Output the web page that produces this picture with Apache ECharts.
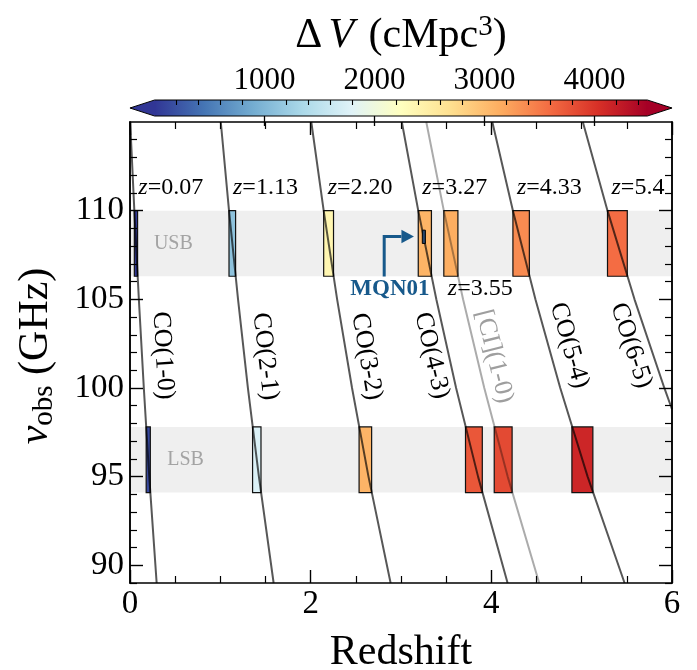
<!DOCTYPE html>
<html>
<head>
<meta charset="utf-8">
<script src="https://cdn.jsdelivr.net/npm/echarts@6.0.0/dist/echarts.min.js"></script>
<style>
html,body{margin:0;padding:0;background:#ffffff;}
#chart{width:697px;height:670px;}
</style>
</head>
<body>
<div id="chart"></div>
<script>
// ---------------- data ----------------
const lineNames = ['CO(1-0)', 'CO(2-1)', 'CO(3-2)', 'CO(4-3)', '[CI](1-0)', 'CO(5-4)', 'CO(6-5)'];
// [redshift, observed frequency GHz] points along each line
const lineCO10 = [[0.002,115],[0.048,110],[0.098,105],[0.153,100],[0.213,95],[0.295,89]];
const lineCO21 = [[1.005,115],[1.096,110],[1.196,105],[1.305,100],[1.427,95],[1.590,89]];
const lineCO32 = [[2.007,115],[2.144,110],[2.293,105],[2.458,100],[2.640,95],[2.885,89]];
const lineCO43 = [[3.009,115],[3.191,110],[3.391,105],[3.610,100],[3.853,95],[4.180,89]];
const lineCI10 = [[3.280,115],[3.474,110],[3.687,105],[3.922,100],[4.181,95],[4.530,89]];
const lineCO54 = [[4.011,115],[4.239,110],[4.488,105],[4.763,100],[5.066,95],[5.475,89]];
const lineCO65 = [[5.013,115],[5.286,110],[5.585,105],[5.915,100],[6.000,98.8]];
const lineCurves = [lineCO10, lineCO21, lineCO32, lineCO43, lineCI10, lineCO54, lineCO65];

// sideband frequency ranges (GHz)
const usbBand = [106.3, 110.0];
const lsbBand = [94.1, 97.8];

// redshift coverage of each line inside USB / LSB and comoving volume (cMpc^3)
const usbZStart = [0.048, 1.096, 2.144, 3.191, 3.474, 4.239, 5.286];
const usbZEnd   = [0.084, 1.169, 2.253, 3.337, 3.630, 4.421, 5.505];
const usbDV     = [20, 1110, 2370, 3085, 3136, 3380, 3590];
const usbZLabels = ['0.07', '1.13', '2.20', '3.27', '3.55', '4.33', '5.4'];

const lsbZStart = [0.179, 1.357, 2.536, 3.714, 4.032, 4.892];
const lsbZEnd   = [0.225, 1.450, 2.675, 3.900, 4.230, 5.124];
const lsbDV     = [130, 1750, 3082, 3746, 3840, 4130];

// MQN01 target box [zStart, zEnd, nuLow, nuHigh]
const mqn01Box = [3.236, 3.270, 108.15, 108.90];

// ticks
const xTicks = [0, 2, 4, 6];
const yTicks = [90, 95, 100, 105, 110];
const yMinorTicks = [89, 91, 92, 93, 94, 96, 97, 98, 99, 101, 102, 103, 104, 106, 107, 108, 109, 111, 112, 113, 114];
const cbTicks = [1000, 2000, 3000, 4000];
const cbMinorTicks = [200, 400, 600, 800, 1200, 1400, 1600, 1800, 2200, 2400, 2600, 2800, 3200, 3400, 3600, 3800, 4200, 4400];
const cbRange = [0, 4480];

// ---------------- layout / style (not data) ----------------
const FONT = '"Liberation Serif", "Times New Roman", serif';
const cmap = ['#313695','#4575b4','#74add1','#abd9e9','#e0f3f8','#ffffbf','#fee090','#fdae61','#f46d43','#d73027','#a50026'];
const lineColors = ['rgba(0,0,0,0.66)','rgba(0,0,0,0.66)','rgba(0,0,0,0.66)','rgba(0,0,0,0.66)','rgba(0,0,0,0.33)','rgba(0,0,0,0.66)','rgba(0,0,0,0.66)'];
// label placement: [z, nu, rotation deg]
const coLabelPlace = [[0.364,101.83,-86.5],[1.497,101.78,-83.5],[2.619,101.77,-80],[3.340,101.83,-77],[4.030,101.78,-76],[4.862,102.40,-74],[5.546,102.40,-72]];
const zLabelAboveNu = 111.3;
const zLabelBelowNu = 105.58;
const arrowPath = [2.814, 3.143, 106.29, 108.54]; // [zStem, zTip, nuBottom, nuElbow]
const mqnLabelPos = [2.877, 105.59];
const bandLabelPos = [[0.48, 'USB', usbBand], [0.615, 'LSB', lsbBand]];

// ---------------- build series data ----------------
const bandData = [[0, 6, lsbBand[0], lsbBand[1]], [0, 6, usbBand[0], usbBand[1]]];
const rectData = [];
usbZStart.forEach((z, i) => rectData.push([z, usbZEnd[i], usbBand[0], usbBand[1], usbDV[i]]));
lsbZStart.forEach((z, i) => rectData.push([z, lsbZEnd[i], lsbBand[0], lsbBand[1], lsbDV[i]]));

const zRich = {
  i: {fontFamily: FONT, fontSize: 24, fontStyle: 'italic'},
  n: {fontFamily: FONT, fontSize: 24}
};
const annos = [];
bandLabelPos.forEach(b => annos.push({z: b[0], nu: (b[2][0] + b[2][1]) / 2, text: b[1], size: 20, color: '#a3a3a3', align: 'center'}));
usbZStart.forEach((z, i) => {
  const below = lineNames[i].indexOf('[CI]') === 0;
  annos.push({z: z, nu: below ? zLabelBelowNu : zLabelAboveNu, dx: 4, text: '{i|z}{n|=' + usbZLabels[i] + '}', rich: zRich, size: 24, align: 'left'});
});
lineNames.forEach((nm, i) => {
  const p = coLabelPlace[i];
  annos.push({z: p[0], nu: p[1], rot: p[2], text: nm, size: 26, color: nm.indexOf('[CI]') === 0 ? '#9e9e9e' : '#000', align: 'center'});
});
annos.push({z: mqnLabelPos[0], nu: mqnLabelPos[1], text: 'MQN01', size: 23, bold: true, color: '#17598b', align: 'center'});

// ---------------- chart ----------------
const chart = echarts.init(document.getElementById('chart'), null, {renderer: 'canvas'});

const axisLineStyle = {color: '#000', width: 1.5};
function xAxisMain(pos, showLabel) {
  return {
    type: 'value', gridIndex: 0, position: pos, min: 0, max: 6, interval: 2, z: 10,
    axisLine: {show: true, onZero: false, lineStyle: axisLineStyle},
    axisTick: {show: true, inside: true, length: 13, lineStyle: {color: '#000', width: 1.4}},
    minorTick: {show: true, splitNumber: 4, length: 7, lineStyle: {color: '#000', width: 1.2}},
    axisLabel: {show: showLabel, color: '#000', fontFamily: FONT, fontSize: 33, margin: 5, customValues: xTicks, formatter: v => String(v)},
    splitLine: {show: false}, minorSplitLine: {show: false}
  };
}
function yAxisMain(pos, major, showLabel) {
  return {
    type: 'value', gridIndex: 0, position: pos, min: 89, max: 115, z: 10,
    axisLine: {show: true, onZero: false, lineStyle: axisLineStyle},
    axisTick: {show: true, inside: true, length: major ? 13 : 7, customValues: major ? yTicks : yMinorTicks, lineStyle: {color: '#000', width: major ? 1.4 : 1.2}},
    axisLabel: {show: showLabel, color: '#000', fontFamily: FONT, fontSize: 33, margin: 6, customValues: yTicks, formatter: v => String(v)},
    splitLine: {show: false}
  };
}

const option = {
  backgroundColor: '#ffffff',
  animation: false,
  grid: [
    {left: 130, top: 122, width: 542, height: 461, containLabel: false},
    {left: 154.6, top: 100, width: 492.8, height: 16, containLabel: false}
  ],
  xAxis: [
    xAxisMain('bottom', true),
    xAxisMain('top', false),
    {
      type: 'value', gridIndex: 1, position: 'top', min: cbRange[0], max: cbRange[1], z: 10,
      axisLine: {show: false},
      axisTick: {show: true, inside: true, length: 10, customValues: cbTicks, lineStyle: {color: '#000', width: 1.3}},
      axisLabel: {show: true, color: '#000', fontFamily: FONT, fontSize: 31, margin: 4, customValues: cbTicks, formatter: v => String(v)},
      splitLine: {show: false}
    },
    {
      type: 'value', gridIndex: 1, position: 'top', min: cbRange[0], max: cbRange[1], z: 10,
      axisLine: {show: false},
      axisTick: {show: true, inside: true, length: 5, customValues: cbMinorTicks, lineStyle: {color: '#000', width: 1.1}},
      axisLabel: {show: false},
      splitLine: {show: false}
    }
  ],
  yAxis: [
    yAxisMain('left', true, true),
    yAxisMain('left', false, false),
    yAxisMain('right', true, false),
    yAxisMain('right', false, false),
    {type: 'value', gridIndex: 1, min: 0, max: 1, show: false}
  ],
  visualMap: [{
    type: 'continuous', show: false, min: cbRange[0], max: cbRange[1], dimension: 4, seriesIndex: 1,
    inRange: {color: cmap}
  }],
  series: [],
  graphic: [
    {type: 'text', x: 401, y: 36, z: 100, style: {
      text: '{n|Δ}{i|V}{n| (cMpc}{s|3}{n|)}', align: 'center', verticalAlign: 'middle', fill: '#000',
      rich: {
        n: {fontFamily: FONT, fontSize: 42, lineHeight: 46},
        i: {fontFamily: FONT, fontSize: 42, fontStyle: 'italic', lineHeight: 46, padding: [0, 4, 0, 6]},
        s: {fontFamily: FONT, fontSize: 29, lineHeight: 24, verticalAlign: 'top'}
      }
    }},
    {type: 'text', x: 401, y: 653, z: 100, style: {
      text: 'Redshift', align: 'center', verticalAlign: 'middle', fill: '#000', font: '42px ' + FONT
    }},
    {type: 'text', x: 36, y: 356, rotation: Math.PI / 2, z: 100, style: {
      text: '{i|ν}{b|obs}{n| (GHz)}', align: 'center', verticalAlign: 'middle', fill: '#000',
      rich: {
        n: {fontFamily: FONT, fontSize: 42, lineHeight: 46},
        i: {fontFamily: FONT, fontSize: 42, fontStyle: 'italic', lineHeight: 46},
        b: {fontFamily: FONT, fontSize: 29, lineHeight: 20, verticalAlign: 'bottom'}
      }
    }}
  ]
};

// 0: shaded sidebands
option.series.push({
  type: 'custom', xAxisIndex: 0, yAxisIndex: 0, z: 1, silent: true,
  encode: {x: [0, 1], y: [2, 3]},
  data: bandData,
  renderItem: function (params, api) {
    const p0 = api.coord([api.value(0), api.value(3)]);
    const p1 = api.coord([api.value(1), api.value(2)]);
    return {type: 'rect', shape: {x: p0[0], y: p0[1], width: p1[0] - p0[0], height: p1[1] - p0[1]}, style: {fill: '#efefef'}};
  }
});
// 1: coverage boxes coloured by comoving volume
option.series.push({
  type: 'custom', xAxisIndex: 0, yAxisIndex: 0, z: 2, silent: true,
  encode: {x: [0, 1], y: [2, 3]},
  data: rectData,
  renderItem: function (params, api) {
    const p0 = api.coord([api.value(0), api.value(3)]);
    const p1 = api.coord([api.value(1), api.value(2)]);
    return {type: 'rect', shape: {x: p0[0], y: p0[1], width: p1[0] - p0[0], height: p1[1] - p0[1]},
      style: {fill: api.visual('color'), stroke: '#111', lineWidth: 1.2}};
  }
});
// 2: MQN01 box + arrow
option.series.push({
  type: 'custom', xAxisIndex: 0, yAxisIndex: 0, z: 4, silent: true,
  data: [[mqn01Box[0], mqn01Box[1], mqn01Box[2], mqn01Box[3], arrowPath[0], arrowPath[1], arrowPath[2], arrowPath[3]]],
  renderItem: function (params, api) {
    const b0 = api.coord([api.value(0), api.value(3)]);
    const b1 = api.coord([api.value(1), api.value(2)]);
    const s0 = api.coord([api.value(4), api.value(6)]);
    const e = api.coord([api.value(4), api.value(7)]);
    const t = api.coord([api.value(5), api.value(7)]);
    const head = 12.5, hw = 6.8;
    return {type: 'group', children: [
      {type: 'rect', shape: {x: b0[0], y: b0[1], width: b1[0] - b0[0], height: b1[1] - b0[1]}, style: {fill: '#27456a', stroke: '#000', lineWidth: 1}},
      {type: 'polyline', shape: {points: [[s0[0], s0[1]], [e[0], e[1]], [t[0] - head, t[1]]]}, style: {stroke: '#17598b', lineWidth: 3, fill: 'none'}},
      {type: 'polygon', shape: {points: [[t[0] - head, t[1] - hw], [t[0], t[1]], [t[0] - head, t[1] + hw]]}, style: {fill: '#17598b'}}
    ]};
  }
});
// 3..9: emission line tracks
lineCurves.forEach((pts, i) => {
  option.series.push({
    type: 'line', name: lineNames[i], xAxisIndex: 0, yAxisIndex: 0, z: 3, silent: true,
    data: pts, showSymbol: false, symbol: 'none', smooth: false, clip: true,
    lineStyle: {color: lineColors[i], width: 2}
  });
});
// annotations
option.series.push({
  type: 'custom', xAxisIndex: 0, yAxisIndex: 0, z: 5, silent: true,
  data: annos.map(a => [a.z, a.nu]),
  renderItem: function (params, api) {
    const a = annos[params.dataIndex];
    const p = api.coord([api.value(0), api.value(1)]);
    const style = {
      text: a.text, fill: a.color || '#000',
      font: (a.bold ? 'bold ' : '') + a.size + 'px ' + FONT,
      align: a.align || 'center', verticalAlign: 'middle'
    };
    if (a.rich) style.rich = a.rich;
    return {type: 'text', x: p[0] + (a.dx || 0), y: p[1], rotation: (a.rot || 0) * Math.PI / 180, style: style};
  }
});
// colorbar
option.series.push({
  type: 'custom', xAxisIndex: 2, yAxisIndex: 4, z: 2, silent: true,
  data: [[cbRange[0], cbRange[1]]],
  renderItem: function (params, api) {
    const l = api.coord([api.value(0), 0]);
    const r = api.coord([api.value(1), 1]);
    const x0 = l[0], x1 = r[0], yb = l[1], yt = r[1];
    const tip = 0.05 * (x1 - x0), ym = (yt + yb) / 2;
    const stops = cmap.map((c, k) => ({offset: k / (cmap.length - 1), color: c}));
    return {type: 'group', children: [
      {type: 'rect', shape: {x: x0, y: yt, width: x1 - x0, height: yb - yt}, style: {fill: new echarts.graphic.LinearGradient(0, 0, 1, 0, stops)}},
      {type: 'polygon', shape: {points: [[x0 + 0.5, yt], [x0 - tip, ym], [x0 + 0.5, yb]]}, style: {fill: cmap[0]}},
      {type: 'polygon', shape: {points: [[x1 - 0.5, yt], [x1 + tip, ym], [x1 - 0.5, yb]]}, style: {fill: cmap[cmap.length - 1]}},
      {type: 'polygon', shape: {points: [[x0, yt], [x1, yt], [x1 + tip, ym], [x1, yb], [x0, yb], [x0 - tip, ym]]}, style: {fill: null, stroke: '#000', lineWidth: 1}}
    ]};
  }
});

chart.setOption(option);
</script>
</body>
</html>
